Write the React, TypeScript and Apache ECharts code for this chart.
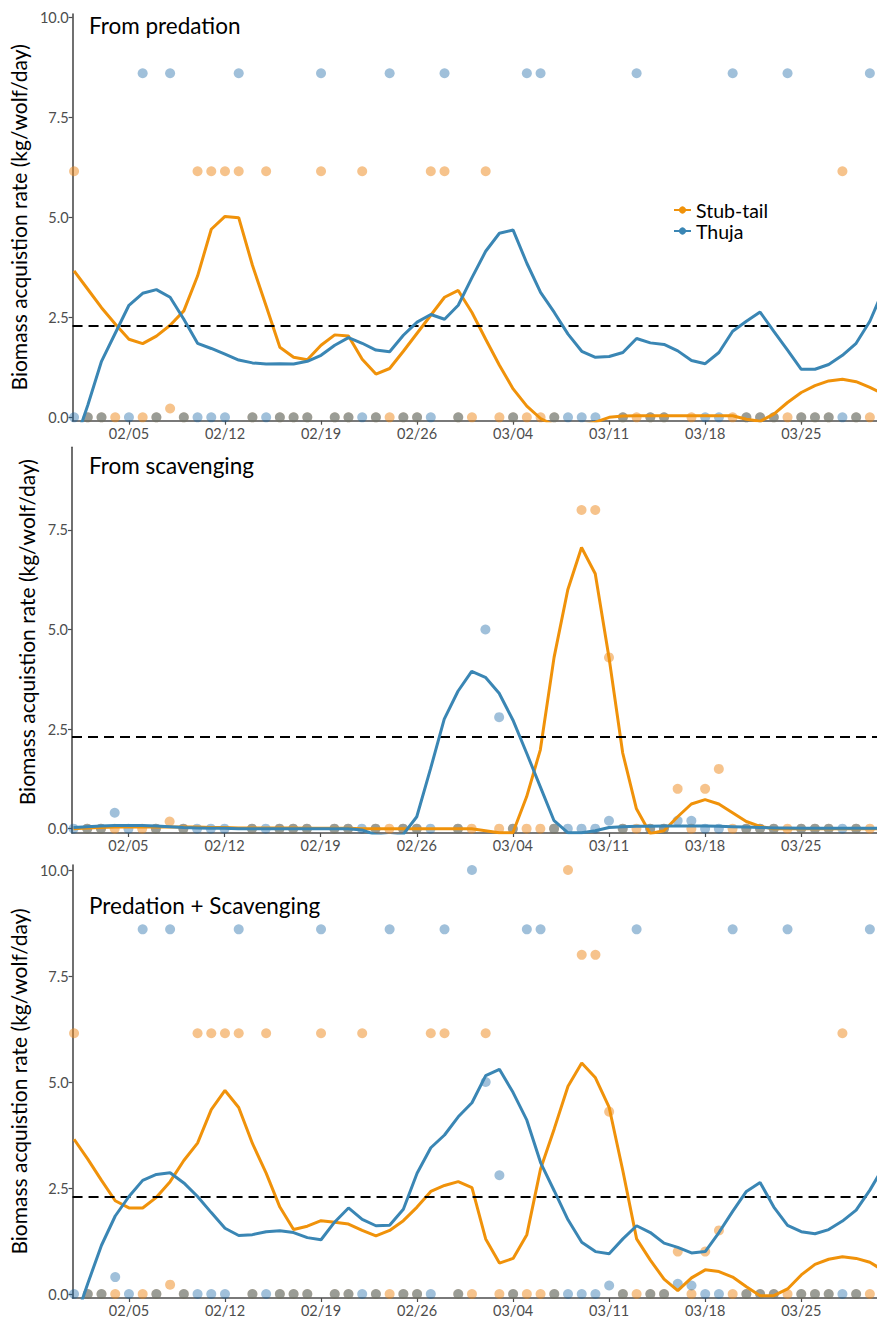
import React, { useEffect, useRef } from "react";
import * as echarts from "echarts";

// x = day index, 0 = 02/01 (leap year, February has 29 days)
const dateLabels = [
  "02/01", "02/02", "02/03", "02/04", "02/05", "02/06", "02/07", "02/08", "02/09", "02/10",
  "02/11", "02/12", "02/13", "02/14", "02/15", "02/16", "02/17", "02/18", "02/19", "02/20",
  "02/21", "02/22", "02/23", "02/24", "02/25", "02/26", "02/27", "02/28", "02/29", "03/01",
  "03/02", "03/03", "03/04", "03/05", "03/06", "03/07", "03/08", "03/09", "03/10", "03/11",
  "03/12", "03/13", "03/14", "03/15", "03/16", "03/17", "03/18", "03/19", "03/20", "03/21",
  "03/22", "03/23", "03/24", "03/25", "03/26", "03/27", "03/28", "03/29", "03/30", "03/31",
];
const tickDays = [4, 11, 18, 25, 32, 39, 46, 53];
const yTicksFull = [0, 2.5, 5, 7.5, 10];
const yTicksScav = [0, 2.5, 5, 7.5];
const threshold = 2.3;
const seriesNames = ["Stub-tail", "Thuja"];
const panelTitles = ["From predation", "From scavenging", "Predation + Scavenging"];
const yTitle = "Biomass acquistion rate (kg/wolf/day)";

type V = number | null;

// ---- daily observed values (dots), days 0..58 ----
const stubPredDots: V[] = [
  6.15, 0, 0, 0, null, 0, 0, 0.22, 0, 6.15,
  6.15, 6.15, 6.15, 0, 6.15, 0, 0, 0, 6.15, 0,
  0, 6.15, 0, 0, 0, 0, 6.15, 6.15, 0, 0,
  6.15, 0, 0, 0, 0, 0, null, null, null, null,
  0, 0, 0, 0, null, 0, null, null, 0, 0,
  0, 0, 0, 0, 0, 0, 6.15, 0, 0,
];
const thujaPredDots: V[] = [
  0, 0, 0, null, 0, 8.6, 0, 8.6, 0, 0,
  0, 0, 8.6, 0, 0, 0, 0, 0, 8.6, 0,
  0, 0, 0, 8.6, 0, 0, 0, 8.6, 0, null,
  null, null, 0, 8.6, 8.6, 0, 0, 0, 0, null,
  0, 8.6, 0, 0, null, null, 0, 0, 8.6, 0,
  0, 0, 8.6, 0, 0, 0, 0, 0, 8.6,
];
const stubScavDots: V[] = [
  null, 0, 0, 0, null, 0, 0, 0.18, 0, null,
  null, null, null, 0, null, 0, 0, 0, null, 0,
  0, null, 0, 0, 0, 0, null, null, 0, 0,
  null, 0, 0, 0, 0, 0, 10, 8.0, 8.0, 4.3,
  0, 0, 0, 0, 1.0, 0, 1.0, 1.5, 0, 0,
  0, 0, 0, 0, 0, 0, null, 0, 0,
];
const thujaScavDots: V[] = [
  0, 0, 0, 0.4, 0, null, 0, null, 0, 0,
  0, 0, null, 0, 0, 0, 0, 0, null, 0,
  0, 0, 0, null, 0, 0, 0, null, 0, 10,
  5.0, 2.8, 0, null, null, 0, 0, 0, 0, 0.2,
  0, null, 0, 0, 0.2, 0.2, 0, 0, null, 0,
  0, 0, null, 0, 0, 0, 0, 0, null,
];
const stubTotalDots: V[] = [
  6.15, 0, 0, 0, null, 0, 0, 0.22, 0, 6.15,
  6.15, 6.15, 6.15, 0, 6.15, 0, 0, 0, 6.15, 0,
  0, 6.15, 0, 0, 0, 0, 6.15, 6.15, 0, 0,
  6.15, 0, 0, 0, 0, 0, 10, 8.0, 8.0, 4.3,
  0, 0, 0, 0, 1.0, 0, 1.0, 1.5, 0, 0,
  0, 0, 0, 0, 0, 0, 6.15, 0, 0,
];
const thujaTotalDots: V[] = [
  0, 0, 0, 0.4, 0, 8.6, 0, 8.6, 0, 0,
  0, 0, 8.6, 0, 0, 0, 0, 0, 8.6, 0,
  0, 0, 0, 8.6, 0, 0, 0, 8.6, 0, 10,
  5.0, 2.8, 0, 8.6, 8.6, 0, 0, 0, 0, 0.2,
  0, 8.6, 0, 0, 0.24, 0.2, 0, 0, 8.6, 0,
  0, 0, 8.6, 0, 0, 0, 0, 0, 8.6,
];

// ---- smoothed rates (lines), days 0..59 ----
const stubPredLine = [
  3.66, 3.2, 2.74, 2.33, 1.95, 1.84, 2.03, 2.3, 2.66, 3.53,
  4.7, 5.02, 4.99, 3.8, 2.78, 1.75, 1.5, 1.44, 1.8, 2.06,
  2.03, 1.45, 1.08, 1.22, 1.65, 2.1, 2.55, 3.0, 3.17, 2.62,
  1.95, 1.3, 0.71, 0.28, -0.03, -0.2, -0.2, -0.2, -0.12, 0.0,
  0.03, 0.04, 0.04, 0.04, 0.04, 0.04, 0.04, 0.04, 0.04, -0.05,
  -0.1, 0.08, 0.37, 0.62, 0.79, 0.91, 0.95, 0.89, 0.75, 0.58,
];
const thujaPredLine = [
  -0.7, 0.3, 1.4, 2.1, 2.8, 3.1, 3.19, 3.0, 2.45, 1.85,
  1.72, 1.58, 1.43, 1.36, 1.33, 1.34, 1.33, 1.4, 1.55, 1.8,
  1.99, 1.85, 1.68, 1.64, 2.05, 2.38, 2.57, 2.45, 2.8, 3.49,
  4.15, 4.6, 4.68, 3.85, 3.12, 2.62, 2.08, 1.65, 1.5, 1.52,
  1.62, 1.97, 1.86, 1.82, 1.66, 1.42, 1.34, 1.62, 2.15, 2.4,
  2.63, 2.15, 1.68, 1.2, 1.2, 1.32, 1.55, 1.85, 2.4, 3.2,
];
const stubScavLine = [
  0.0, 0.02, 0.03, 0.04, 0.04, 0.04, 0.04, 0.04, 0.04, 0.04,
  0.03, 0.03, 0.02, 0.02, 0.02, 0.02, 0.02, 0.01, 0.01, 0.01,
  0.01, 0.0, 0.0, 0.0, 0.0, 0.0, 0.0, 0.0, 0.0, 0.0,
  -0.05, -0.1, -0.1, 0.8, 1.98, 4.3, 6.0, 7.06, 6.4, 4.3,
  1.9, 0.5, -0.12, -0.05, 0.3, 0.62, 0.73, 0.62, 0.4, 0.18,
  0.06, 0.0, 0.0, 0.0, 0.0, 0.0, 0.0, 0.0, 0.0, 0.0,
];
const thujaScavLine = [
  0.03, 0.05, 0.07, 0.08, 0.08, 0.08, 0.07, 0.05, 0.03, 0.02,
  0.01, 0.01, 0.0, 0.0, 0.0, 0.0, 0.0, 0.0, 0.0, 0.0,
  0.0, -0.03, -0.15, -0.2, -0.15, 0.3, 1.5, 2.75, 3.45, 3.95,
  3.8, 3.4, 2.73, 1.9, 1.05, 0.2, -0.1, -0.1, -0.05, 0.03,
  0.05, 0.06, 0.06, 0.07, 0.07, 0.07, 0.07, 0.06, 0.05, 0.04,
  0.03, 0.02, 0.02, 0.01, 0.01, 0.01, 0.01, 0.01, 0.01, 0.01,
];
const stubTotalLine = [
  3.65, 3.18, 2.68, 2.2, 2.03, 2.03, 2.28, 2.65, 3.15, 3.56,
  4.35, 4.8, 4.4, 3.55, 2.85, 2.05, 1.52, 1.6, 1.73, 1.69,
  1.65, 1.5, 1.37, 1.5, 1.73, 2.05, 2.42, 2.56, 2.65, 2.51,
  1.3, 0.73, 0.84, 1.4, 2.95, 3.9, 4.9, 5.45, 5.1, 4.4,
  2.9, 1.3, 0.8, 0.35, 0.08, 0.38, 0.57, 0.53, 0.4, 0.17,
  -0.04, -0.04, 0.12, 0.45, 0.7, 0.82, 0.88, 0.84, 0.75, 0.55,
];
const thujaTotalLine = [
  -0.7, 0.25, 1.15, 1.84, 2.3, 2.68, 2.82, 2.86, 2.62, 2.3,
  1.92, 1.55, 1.38, 1.4, 1.47, 1.49, 1.45, 1.33, 1.28, 1.7,
  2.03, 1.76, 1.61, 1.62, 2.0, 2.85, 3.45, 3.75, 4.18, 4.51,
  5.15, 5.3, 4.75, 4.1, 3.1, 2.43, 1.75, 1.22, 1.0, 0.95,
  1.3, 1.61, 1.45, 1.2, 1.1, 0.97, 1.0, 1.45, 1.95, 2.42,
  2.63, 2.05, 1.62, 1.47, 1.42, 1.52, 1.72, 1.98, 2.45, 3.0,
];

const ORANGE = "#F0920A";
const BLUE = "#3A86B4";
const ORANGE_DOT = "#ED8719";
const BLUE_DOT = "#1262A2";
const AXIS = "#4D4D4D";
const FONT = "Lato";

const panels = [
  { stubDots: stubPredDots, thujaDots: thujaPredDots, stubLine: stubPredLine, thujaLine: thujaPredLine,
    top: 14, height: 406.7, min: -0.085, max: 10.08, ticks: yTicksFull, namePad: 0 },
  { stubDots: stubScavDots, thujaDots: thujaScavDots, stubLine: stubScavLine, thujaLine: thujaScavLine,
    top: 447.3, height: 385.7, min: -0.108, max: 9.574, ticks: yTicksScav, namePad: 16 },
  { stubDots: stubTotalDots, thujaDots: thujaTotalDots, stubLine: stubTotalLine, thujaLine: thujaTotalLine,
    top: 865, height: 434, min: -0.094, max: 10.118, ticks: yTicksFull, namePad: 0 },
];
const titleTops = [14, 454, 894];

const toPoints = (arr: V[]) =>
  arr.map((v, i) => (v === null ? null : [i, v])).filter((p) => p !== null);

export default function App() {
  const ref = useRef<HTMLDivElement>(null);
  useEffect(() => {
    document.body.style.margin = "0";
    if (!ref.current) return;
    const chart = echarts.init(ref.current, null, { renderer: "svg" });

    const grid = panels.map((p) => ({ left: 72, top: p.top, width: 805, height: p.height }));
    const xAxis = panels.map((_, k) => ({
      type: "value",
      gridIndex: k,
      min: -0.11,
      max: 58.52,
      splitLine: { show: false },
      axisLine: { show: true, onZero: false, lineStyle: { color: AXIS, width: 1.6 } },
      axisTick: { show: true, customValues: tickDays, length: 4, lineStyle: { color: AXIS, width: 1.2 } },
      axisLabel: {
        customValues: tickDays,
        formatter: (v: number) => dateLabels[Math.round(v)],
        color: AXIS,
        fontSize: 14.5,
        fontFamily: FONT,
        margin: 5,
      },
    }));
    const yAxis = panels.map((p, k) => ({
      type: "value",
      gridIndex: k,
      min: p.min,
      max: p.max,
      splitLine: { show: false },
      axisLine: { show: true, onZero: false, lineStyle: { color: AXIS, width: 1.6 } },
      axisTick: { show: true, customValues: p.ticks, length: 4, lineStyle: { color: AXIS, width: 1.2 } },
      axisLabel: {
        customValues: p.ticks,
        formatter: (v: number) => v.toFixed(1),
        color: AXIS,
        fontSize: 14.5,
        fontFamily: FONT,
        margin: 4,
      },
      name: yTitle,
      nameLocation: "middle",
      nameGap: 31,
      nameTextStyle: { fontSize: 21, color: "#000", fontFamily: FONT, padding: [0, 0, 0, p.namePad] },
    }));

    const series: any[] = [];
    panels.forEach((p, k) => {
      series.push({
        type: "line", name: seriesNames[0], xAxisIndex: k, yAxisIndex: k,
        data: p.stubLine.map((v, i) => [i, v]),
        symbol: "circle", symbolSize: 8, showSymbol: false, clip: true, z: 4,
        lineStyle: { color: ORANGE, width: 3 }, itemStyle: { color: ORANGE },
        markLine: {
          silent: true, symbol: ["none", "none"], label: { show: false },
          lineStyle: { color: "#000", type: [10, 6], width: 2.2 },
          data: [{ yAxis: threshold }],
        },
      });
      series.push({
        type: "line", name: seriesNames[1], xAxisIndex: k, yAxisIndex: k,
        data: p.thujaLine.map((v, i) => [i, v]),
        symbol: "circle", symbolSize: 8, showSymbol: false, clip: true, z: 5,
        lineStyle: { color: BLUE, width: 3 }, itemStyle: { color: BLUE },
      });
      series.push({
        type: "scatter", name: seriesNames[0], xAxisIndex: k, yAxisIndex: k,
        data: toPoints(p.stubDots), symbolSize: 10, clip: true, z: 2,
        itemStyle: { color: ORANGE_DOT, opacity: 0.5 },
      });
      series.push({
        type: "scatter", name: seriesNames[1], xAxisIndex: k, yAxisIndex: k,
        data: toPoints(p.thujaDots), symbolSize: 10, clip: true, z: 3,
        itemStyle: { color: BLUE_DOT, opacity: 0.4 },
      });
    });

    chart.setOption({
      animation: false,
      textStyle: { fontFamily: FONT },
      title: panelTitles.map((t, k) => ({
        text: t, left: 89, top: titleTops[k], padding: 0,
        textStyle: { fontSize: 22.5, fontWeight: "normal", color: "#000", fontFamily: FONT },
      })),
      legend: {
        data: seriesNames,
        orient: "vertical",
        left: 668,
        top: 195,
        itemWidth: 17,
        itemHeight: 9,
        itemGap: 1,
        textStyle: { fontSize: 19.5, color: "#000", fontFamily: FONT },
      },
      grid,
      xAxis,
      yAxis,
      series,
    });
    return () => chart.dispose();
  }, []);
  return <div ref={ref} style={{ width: 877, height: 1318 }} />;
}
